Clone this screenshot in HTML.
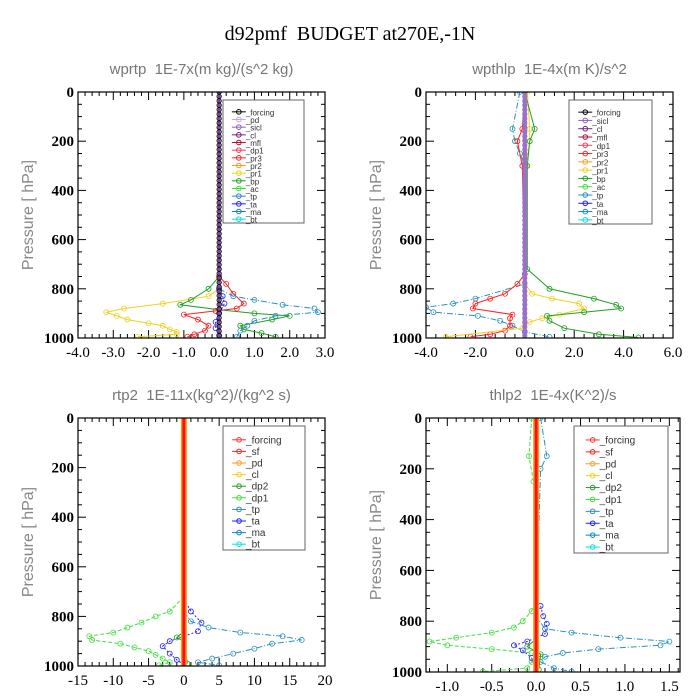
<!DOCTYPE html>
<html><head><meta charset="utf-8">
<style>
body{margin:0;background:#fff;}
svg{display:block;}
svg text{white-space:pre;}
</style></head>
<body>
<svg id="fig" width="700" height="700" xmlns="http://www.w3.org/2000/svg">
<rect width="700" height="700" fill="#fff"/>
<text x="350" y="40" text-anchor="middle" font-family="Liberation Serif, serif" font-size="20" fill="#000">d92pmf  BUDGET at270E,-1N</text>
</svg>
<script>
// ---- Panel 1: wprtp ----
const p1Pr1P=[800,830,860,880,895,910,925,940,950,965,975,985,995];
const p1Pr1V=[0,-0.3,-1.6,-2.7,-3.2,-2.9,-2.6,-2.0,-1.6,-1.4,-1.2,-1.2,-2.3];
const p1BpP=[750,800,845,865,885,900,910,925,950,965,980,995];
const p1BpV=[0,-0.3,-0.8,-1.1,0,1.0,2.0,1.5,0.6,0.7,1.2,1.6];
const p1RedP=[750,780,820,860,880,890,905,925,950,970,985,995];
const p1RedV=[0,0.2,0.4,0.7,0.5,-0.1,-1.0,-0.6,-0.3,-0.4,-0.7,-0.9];
const p1TpP=[800,830,845,865,880,895,910,930,950,970,995];
const p1TpV=[0,0.4,1.0,1.8,2.7,2.8,1.6,1.0,0.8,0.6,0.5];
const p1TaP=[800,830,860,900,935,960,990];
const p1TaV=[0,0.1,0.15,0,-0.1,-0.1,0];
// ---- Panel 2: wpthlp ----
const p2TpP=[0,150,200,250,300,780,840,860,875,895,910,930,950,975,995];
const p2TpV=[-0.2,-0.5,-0.4,-0.2,0,0,-2.0,-2.9,-4.0,-3.7,-1.9,-1.0,-0.5,0,1.0];
const p2RedP=[0,150,200,300,740,780,820,840,860,880,905,920,950,970,985,995];
const p2RedV=[0,-0.1,-0.3,-0.1,0,-0.3,-0.8,-1.4,-2.0,-2.1,-0.5,-0.6,-0.6,-0.8,-1.4,-2.2];
const p2Pr1P=[0,150,200,300,780,820,840,860,880,905,920,935,960,995];
const p2Pr1V=[0.1,0.2,0.2,0.05,0,0.3,1.1,2.2,2.4,1.4,0.7,0.2,-0.1,-3.2];
const p2BpP=[0,150,200,300,720,800,840,865,880,895,910,930,960,985,998];
const p2BpV=[0,0.4,0.2,0.1,0.1,1.0,2.8,3.7,3.9,2.4,0.9,1.0,1.6,3.0,4.6];
// ---- Panel 3: rtp2 ----
const p3Dp1P=[720,780,800,825,845,865,880,895,910,925,940,955,970,985,997];
const p3Dp1V=[0,-2,-4,-6,-8,-10,-13.4,-13,-9,-7,-5,-4,-3,-2,-3.5];
const p3TaP=[730,780,825,860,880,900,920,950,975,995];
const p3TaV=[0,1,2.5,2,0,-2,-3,-2,-1,0];
const p3TpP=[780,820,845,865,880,895,910,930,950,970,985,997];
const p3TpV=[0,1,3.5,8,14,16.7,12.5,10,7,4,2,5];
const p3Dp2P=[860,885,900,990];
const p3Dp2V=[0,-1,0,0.5];
// ---- Panel 4: thlp2 ----
const p4Dp1P=[0,150,250,720,760,800,825,845,865,880,895,910,925,940,960,985,998];
const p4Dp1V=[-0.05,-0.08,-0.03,0,-0.05,-0.15,-0.25,-0.5,-0.9,-1.2,-1.0,-0.5,-0.05,0.05,-0.05,-0.1,-0.6];
const p4TpP=[0,150,200,780,830,845,865,880,895,910,925,940,960,985,998];
const p4TpV=[0.05,0.12,0.05,0,0.1,0.4,0.95,1.5,1.4,0.7,0.3,0.1,0.05,0.2,0.4];
const p4TaP=[740,780,810,850,880,895,915,945,995];
const p4TaV=[0.05,0.08,0.12,0.1,-0.1,-0.25,-0.15,-0.05,0];
const p4Dp2P=[870,900,930,990];
const p4Dp2V=[0,-0.1,0.05,0.03];

const xt1=["-4.0","-3.0","-2.0","-1.0","0.0","1.0","2.0","3.0"];
const xt2=["-4.0","-2.0","0.0","2.0","4.0","6.0"];
const xt3=["-15","-10","-5","0","5","10","15","20"];
const xt4=["-1.0","-0.5","0.0","0.5","1.0","1.5"];
const yt=[0,200,400,600,800,1000];

const NS="http://www.w3.org/2000/svg";
const fig=document.getElementById('fig');
function mk(tag,attrs,parent){const e=document.createElementNS(NS,tag);for(const k in attrs)e.setAttribute(k,attrs[k]);(parent||fig).appendChild(e);return e;}

const C={forcing:'#000',pd:'#c8a8e0',sicl:'#9060c0',cl:'#7a1f7a',mfl:'#b0103a',dp1:'#f04060',pr3:'#ff2020',pr2:'#ff9a20',pr1:'#f0d020',bp:'#20a020',ac:'#40e040',tp:'#2890c0',ta:'#2020ff',ma:'#1080d0',bt:'#00e0e0',dp2:'#20a020',sf:'#ff2020'};
const C34={forcing:'#ff3030',sf:'#ff2020',pd:'#ff9a20',cl:'#f0d020',dp2:'#20a020',dp1:'#40e040',tp:'#2890c0',ta:'#2020ff',ma:'#1080d0',bt:'#00e0e0'};

function panel(cfg){
  const g=mk('g',{});
  
  
  const {L,R,T,B,xmin,xmax}=cfg;
  const X=v=>L+(v-xmin)/(xmax-xmin)*(R-L);
  const Y=p=>T+p/1000*(B-T);
  const t=mk('text',{x:(L+R)/2,y:T-18,'text-anchor':'middle','font-family':'Liberation Sans, sans-serif','font-size':15,fill:'#777'},g);
  t.textContent=cfg.title;
  
  
  const yl=mk('text',{x:0,y:0,transform:`translate(${L-45},${(T+B)/2}) rotate(-90)`,'text-anchor':'middle','font-family':'Liberation Sans, sans-serif','font-size':16,fill:'#888'},g);
  yl.textContent='Pressure [ hPa]';
  
  
  for(let p=0;p<=1000;p+=50){
    const len=p%200===0?8:4;
    mk('line',{x1:L,x2:L+len,y1:Y(p),y2:Y(p),stroke:'#000'},g);
    mk('line',{x1:R,x2:R-len,y1:Y(p),y2:Y(p),stroke:'#000'},g);
  }
  yt.forEach(p=>{const tx=mk('text',{x:L-4,y:Y(p)+5,'text-anchor':'end','font-family':'Liberation Serif, serif','font-size':15,'font-weight':'bold',fill:'#000'},g);tx.textContent=p;
    
    });
  const labs=cfg.xt, n=labs.length;
  const v0=parseFloat(labs[0]), v1=parseFloat(labs[n-1]);
  const step=(v1-v0)/(n-1);
  for(let i=0;i<n;i++){
    const v=v0+i*step;
    const x=X(v);
    mk('line',{x1:x,x2:x,y1:B,y2:B-8,stroke:'#000'},g);
    mk('line',{x1:x,x2:x,y1:T,y2:T+8,stroke:'#000'},g);
    for(let k=1;k<5;k++){const xm=X(v+step*k/5); if(xm>L&&xm<R){mk('line',{x1:xm,x2:xm,y1:B,y2:B-4,stroke:'#000'},g);mk('line',{x1:xm,x2:xm,y1:T,y2:T+4,stroke:'#000'},g);}}
    const tx=mk('text',{x:x,y:B+19,'text-anchor':'middle','font-family':'Liberation Serif, serif','font-size':15,fill:'#000'},g);
    tx.textContent=labs[i];
    
    
  }
  for(let k=1;k<5;k++){const xm=X(v0-step*k/5); if(xm>L){mk('line',{x1:xm,x2:xm,y1:B,y2:B-4,stroke:'#000'},g);mk('line',{x1:xm,x2:xm,y1:T,y2:T+4,stroke:'#000'},g);}}
  const cid='clip'+cfg.name;
  const cp=mk('clipPath',{id:cid},g); mk('rect',{x:L,y:T,width:R-L,height:B-T},cp);
  const pg=mk('g',{'clip-path':`url(#${cid})`},g);
  cfg.series.forEach(s=>{
    const pts=s.p.map((p,i)=>X(s.v[i]).toFixed(1)+','+Y(p).toFixed(1)).join(' ');
    const pl=mk('polyline',{points:pts,fill:'none',stroke:s.c,'stroke-width':s.w||1,'stroke-dasharray':s.d||''},pg);
    
    
    s.p.forEach((p,i)=>{
      const m=mk('circle',{cx:X(s.v[i]),cy:Y(p),r:2.5,fill:s.f||'none',stroke:s.c,'stroke-width':0.8},pg);
      
      
    });
  });
  cfg.zero.forEach(z=>{
    const zl=mk('line',{x1:X(0),x2:X(0),y1:T,y2:B,stroke:z.c,'stroke-width':z.w},pg);
    
    
    if(z.m){for(let p=0;p<=1000;p+=18){mk('circle',{cx:X(0),cy:Y(p),r:2.2,fill:'none',stroke:z.m,'stroke-width':0.8},pg);}}
  });
  const fr=mk('rect',{x:L,y:T,width:R-L,height:B-T,fill:'none',stroke:'#000','stroke-width':1.2},g);
  
  
  const lg=mk('g',{},g);
  
  
  const lb=cfg.leg, cols=lb.cols||C;
  mk('rect',{x:lb.x,y:lb.y,width:lb.w,height:lb.h,fill:'#fff',stroke:'#666'},lg);
  const dy=(lb.h-8)/lb.items.length;
  lb.items.forEach((it,i)=>{
    const yy=lb.y+8+dy*(i+0.5);
    const x0=lb.x+lb.w*0.22;
    mk('line',{x1:x0-9,x2:x0+5,y1:yy,y2:yy,stroke:cols[it]||'#000'},lg);
    mk('circle',{cx:x0-2,cy:yy,r:2.3,fill:'none',stroke:cols[it]||'#000'},lg);
    const tx=mk('text',{x:x0+5,y:yy+3.5,'font-family':'Liberation Sans, sans-serif','font-size':lb.fs,fill:'#333'},lg);
    tx.textContent='_'+it;
    
    
  });
}

const leg14=['forcing','pd','sicl','cl','mfl','dp1','pr3','pr2','pr1','bp','ac','tp','ta','ma','bt'];
const leg2=['forcing','sicl','cl','mfl','dp1','pr3','pr2','pr1','bp','ac','tp','ta','ma','bt'];
const leg34=['forcing','sf','pd','cl','dp2','dp1','tp','ta','ma','bt'];

panel({name:'panel-wprtp',title:'wprtp  1E-7x(m kg)/(s^2 kg)',L:78,R:325,T:92,B:338,xmin:-4,xmax:3,xt:xt1,
  series:[{n:'pr1',p:p1Pr1P,v:p1Pr1V,c:C.pr1},{n:'bp',p:p1BpP,v:p1BpV,c:C.bp},{n:'pr3',p:p1RedP,v:p1RedV,c:C.pr3},
          {n:'tp',p:p1TpP,v:p1TpV,c:C.tp,d:'6,2,1,2'},{n:'ta',p:p1TaP,v:p1TaV,c:C.ta,d:'2,2'}],
  zero:[{c:'#7a4a9a',w:3,m:'#000'}],
  leg:{x:223,y:100,w:81,h:123,items:leg14,fs:8}});
panel({name:'panel-wpthlp',title:'wpthlp  1E-4x(m K)/s^2',L:426,R:673,T:92,B:338,xmin:-4,xmax:6,xt:xt2,
  series:[{n:'tp',p:p2TpP,v:p2TpV,c:C.tp,d:'6,2,1,2'},{n:'pr3',p:p2RedP,v:p2RedV,c:C.pr3},{n:'pr1',p:p2Pr1P,v:p2Pr1V,c:C.pr1},{n:'bp',p:p2BpP,v:p2BpV,c:C.bp}],
  zero:[{c:'#9a70c8',w:4,m:'#9a70c8'}],
  leg:{x:569,y:100,w:83,h:124,items:leg2,fs:8}});
panel({name:'panel-rtp2',title:'rtp2  1E-11x(kg^2)/(kg^2 s)',L:78,R:325,T:418,B:666,xmin:-15,xmax:20,xt:xt3,
  series:[{n:'dp1',p:p3Dp1P,v:p3Dp1V,c:C.ac,d:'4,2'},{n:'ta',p:p3TaP,v:p3TaV,c:C.ta,d:'2,2'},{n:'tp',p:p3TpP,v:p3TpV,c:C.tp,d:'6,2,1,2'},{n:'dp2',p:p3Dp2P,v:p3Dp2V,c:C.dp2}],
  zero:[{c:'#f0a020',w:6},{c:'#ff1010',w:3}],
  leg:{x:223,y:426,w:82,h:124,items:leg34,fs:10,cols:C34}});
panel({name:'panel-thlp2',title:'thlp2  1E-4x(K^2)/s',L:426,R:680,T:418,B:672,xmin:-1.24,xmax:1.62,xt:xt4,
  series:[{n:'dp1',p:p4Dp1P,v:p4Dp1V,c:C.ac,d:'4,2'},{n:'tp',p:p4TpP,v:p4TpV,c:C.tp,d:'6,2,1,2'},{n:'ta',p:p4TaP,v:p4TaV,c:C.ta,d:'2,2'},{n:'dp2',p:p4Dp2P,v:p4Dp2V,c:C.dp2}],
  zero:[{c:'#f0a020',w:6},{c:'#ff1010',w:3}],
  leg:{x:574,y:426,w:94,h:127,items:leg34,fs:10,cols:C34}});
</script>
</body></html>
